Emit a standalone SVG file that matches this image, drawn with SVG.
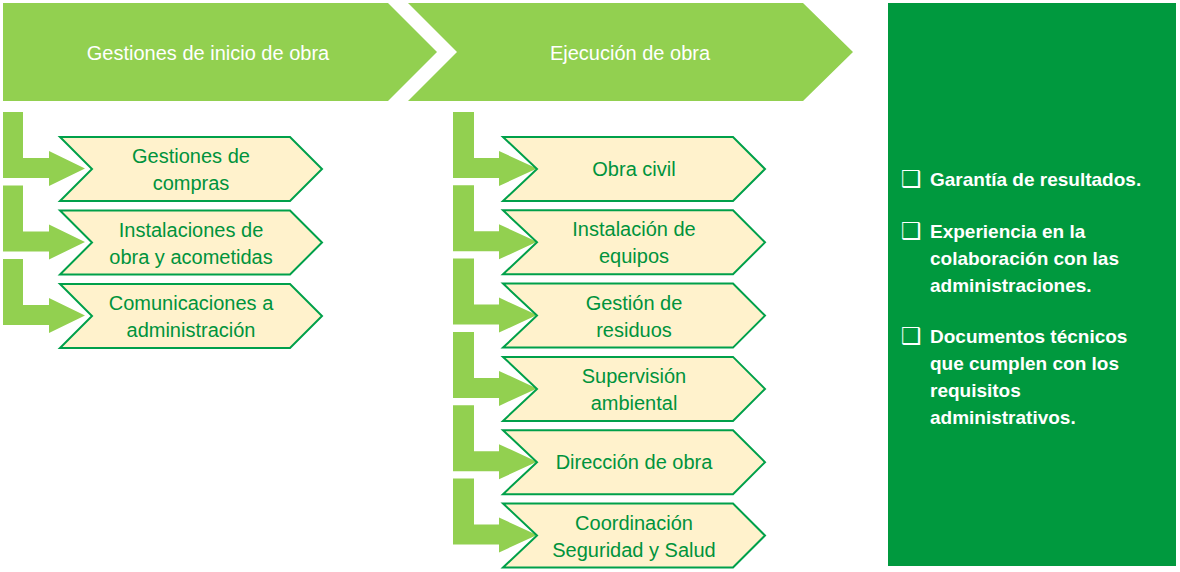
<svg xmlns="http://www.w3.org/2000/svg" width="1180" height="572" viewBox="0 0 1180 572">
<style>
.hdr{fill:#92D050}
.hdrt{font-family:"Liberation Sans",Arial,sans-serif;font-size:20px;fill:#ffffff;text-anchor:middle}
.arr{fill:#92D050}
.box{fill:#FFF2CC;stroke:#00A04A;stroke-width:2}
.bt{font-family:"Liberation Sans",Arial,sans-serif;font-size:20px;fill:#00933C;text-anchor:middle}
.panel{fill:#00993E}
.pt{font-family:"Liberation Sans",Arial,sans-serif;font-size:19px;font-weight:bold;fill:#ffffff}
.cb{font-family:"DejaVu Sans",sans-serif;font-size:23px;fill:#ffffff}
</style>
<rect width="1180" height="572" fill="#ffffff"/>
<g id="hdr1"><polygon class="hdr" points="3,3 388,3 437,52 388,101 3,101"/><text class="hdrt" x="208" y="60">Gestiones de inicio de obra</text></g>
<g id="hdr2"><polygon class="hdr" points="408,3 803,3 853,52 803,101 408,101 457,52"/><text class="hdrt" x="630" y="60">Ejecución de obra</text></g>
<g id="connectors">
<polygon class="arr" points="3,112 23,112 23,158 49,158 49,151 85,168.5 49,186 49,178 3,178"/>
<polygon class="arr" points="3,185.5 23,185.5 23,231.5 49,231.5 49,224.5 85,242 49,259.5 49,251.5 3,251.5"/>
<polygon class="arr" points="3,259 23,259 23,305 49,305 49,298 85,315.5 49,333 49,325 3,325"/>
<polygon class="arr" points="453,112 474,112 474,158 499,158 499,151 537,168.5 499,186 499,178 453,178"/>
<polygon class="arr" points="453,185.3 474,185.3 474,231.3 499,231.3 499,224.3 537,241.8 499,259.3 499,251.3 453,251.3"/>
<polygon class="arr" points="453,258.6 474,258.6 474,304.6 499,304.6 499,297.6 537,315.1 499,332.6 499,324.6 453,324.6"/>
<polygon class="arr" points="453,331.9 474,331.9 474,377.9 499,377.9 499,370.9 537,388.4 499,405.9 499,397.9 453,397.9"/>
<polygon class="arr" points="453,405.2 474,405.2 474,451.2 499,451.2 499,444.2 537,461.7 499,479.2 499,471.2 453,471.2"/>
<polygon class="arr" points="453,478.5 474,478.5 474,524.5 499,524.5 499,517.5 537,535 499,552.5 499,544.5 453,544.5"/>
</g>
<g id="n1"><polygon class="box" points="60,137 290,137 322,169 290,201 60,201 92,169"/><text class="bt" x="191" y="163">Gestiones de</text><text class="bt" x="191" y="190">compras</text></g>
<g id="n2"><polygon class="box" points="60,210.5 290,210.5 322,242.5 290,274.5 60,274.5 92,242.5"/><text class="bt" x="191" y="236.5">Instalaciones de</text><text class="bt" x="191" y="263.5">obra y acometidas</text></g>
<g id="n3"><polygon class="box" points="60,284 290,284 322,316 290,348 60,348 92,316"/><text class="bt" x="191" y="310">Comunicaciones a</text><text class="bt" x="191" y="337">administración</text></g>
<g id="m1"><polygon class="box" points="503,137 733,137 765,169 733,201 503,201 537,169"/><text class="bt" x="634" y="176">Obra civil</text></g>
<g id="m2"><polygon class="box" points="503,210.3 733,210.3 765,242.3 733,274.3 503,274.3 537,242.3"/><text class="bt" x="634" y="236.3">Instalación de</text><text class="bt" x="634" y="263.3">equipos</text></g>
<g id="m3"><polygon class="box" points="503,283.6 733,283.6 765,315.6 733,347.6 503,347.6 537,315.6"/><text class="bt" x="634" y="309.6">Gestión de</text><text class="bt" x="634" y="336.6">residuos</text></g>
<g id="m4"><polygon class="box" points="503,356.9 733,356.9 765,388.9 733,420.9 503,420.9 537,388.9"/><text class="bt" x="634" y="382.9">Supervisión</text><text class="bt" x="634" y="409.9">ambiental</text></g>
<g id="m5"><polygon class="box" points="503,430.2 733,430.2 765,462.2 733,494.2 503,494.2 537,462.2"/><text class="bt" x="634" y="469.2">Dirección de obra</text></g>
<g id="m6"><polygon class="box" points="503,503.5 733,503.5 765,535.5 733,567.5 503,567.5 537,535.5"/><text class="bt" x="634" y="529.5">Coordinación</text><text class="bt" x="634" y="556.5">Seguridad y Salud</text></g>
<g id="panel">
<rect class="panel" x="888" y="3" width="288" height="563"/>
<text class="cb" x="901" y="187">❑</text>
<text class="cb" x="901" y="239">❑</text>
<text class="cb" x="901" y="344">❑</text>
<text class="pt" x="930" y="186">Garantía de resultados.</text>
<text class="pt" x="930" y="238">Experiencia en la</text>
<text class="pt" x="930" y="265">colaboración con las</text>
<text class="pt" x="930" y="292">administraciones.</text>
<text class="pt" x="930" y="343">Documentos técnicos</text>
<text class="pt" x="930" y="370">que cumplen con los</text>
<text class="pt" x="930" y="397">requisitos</text>
<text class="pt" x="930" y="424">administrativos.</text>
</g>
</svg>
